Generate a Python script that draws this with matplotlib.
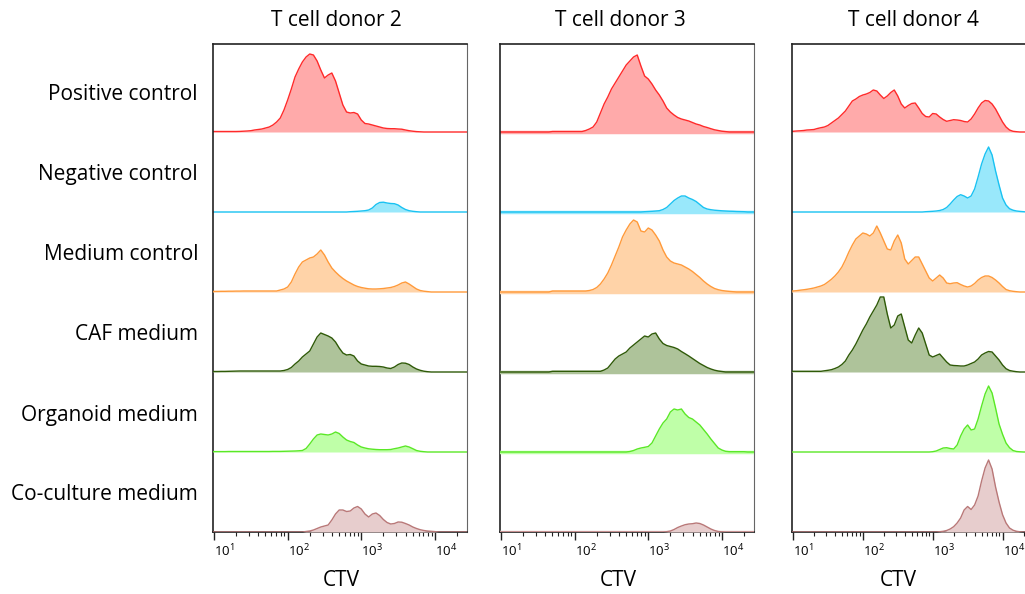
import numpy as np
import matplotlib
matplotlib.use("Agg")
import matplotlib.pyplot as plt
from matplotlib.ticker import LogLocator, NullFormatter, LogFormatterSciNotation

plt.rcParams['font.family'] = ['Open Sans', 'DejaVu Sans']

# ---------------- data ----------------
BIN_STEP = 0.05
LOG_BINS = np.round(np.arange(0.95, 4.4501, BIN_STEP), 2)   # log10(CTV) bin centres

donors = ["T cell donor 2", "T cell donor 3", "T cell donor 4"]
conditions = ["Positive control", "Negative control", "Medium control",
              "CAF medium", "Organoid medium", "Co-culture medium"]

# event counts (80 = one row height); each entry: (log10 CTV of first bin, counts)
d2_positive = (1.00, [0.5, 0.5, 0.5, 0.5, 0.5, 0.5, 0.5, 0.6, 0.8, 1, 1.3,
                      2, 2.5, 3, 4, 5, 7, 10, 14, 22, 32, 43, 55, 63, 70, 75, 78, 77, 71, 62,
                      54, 57, 59, 51, 39, 27, 20, 19, 19.5, 18, 12, 8.5, 8, 7, 6, 5, 4, 3.5,
                      3.3, 3.3, 3, 2.8, 2, 1.3, 0.8, 0.4, 0.2])
d2_negative = (2.85, [0.3, 0.5, 0.7, 1, 1.3, 2, 4, 7.5, 9.5, 9.8, 9, 8.5, 8.3, 7, 4.5,
                      2.5, 1.3, 0.7, 0.3])
d2_medium = (1.00, [0.6, 0.6, 0.7, 0.7, 0.8, 0.8, 0.9, 0.9, 1, 1, 1, 1, 1, 1, 1, 1, 1, 1,
                    2, 3, 5, 10, 18, 25, 30, 32, 34, 35, 38, 42, 37, 30, 24, 20, 16.5, 13.5,
                    11, 9, 7, 5.5, 4.5, 3.8, 3.2, 3, 3, 3.2, 3.5, 4, 4.5, 5.5, 7, 9, 10, 8,
                    5.5, 3, 1.5, 0.8, 0.4])
d2_caf = (1.00, [0.5, 0.5, 0.6, 0.6, 0.7, 0.8, 0.9, 1, 1, 1, 1, 1, 1, 1, 1, 1, 1, 1, 1, 1.5,
                 2.5, 4.5, 8, 11, 15, 18, 21, 28, 35, 39, 37.5, 36, 34, 30, 24, 19, 17,
                 17.5, 16, 11, 8, 7, 6, 5.7, 5.7, 5.5, 5, 4, 3.5, 5, 7.5, 9, 8.8, 7.5, 5,
                 3, 1.7, 0.8, 0.3])
d2_organoid = (1.00, [0.4, 0.4, 0.4, 0.4, 0.5, 0.5, 0.5, 0.5, 0.5, 0.5, 0.5, 0.5, 0.5, 0.5,
                      0.5, 0.5, 0.6, 0.6, 0.6, 0.7, 0.8, 0.9, 1, 1.2, 1.5, 3.5, 8, 13, 17,
                      18, 17.5, 17, 18, 20, 18.5, 15, 12, 10.5, 9.5, 7, 5, 4, 3.2, 2.8, 2.5,
                      2.3, 2.3, 2.3, 2.5, 3.3, 4, 5, 6, 5, 3.3, 1.5, 0.7, 0.3])
d2_coculture = (2.25, [0.5, 1, 2, 3.5, 5, 6, 7, 12, 18, 22, 22, 20.5, 21, 24, 25.5, 23, 18,
                       15, 18, 19, 16.5, 12.5, 9.5, 8, 8.5, 10, 9.8, 8.5, 7, 5, 3.5, 2.3,
                       1.5, 1, 0.7, 0.4])

d3_positive = (1.70, [0.5, 0.5, 0.5, 0.5, 0.5, 0.5, 0.5, 0.5, 0.5, 1.5, 3, 5, 10, 19, 28, 35,
                      43, 49, 55, 61, 67, 71, 75, 77, 66, 56, 53, 48, 42, 37, 31, 24, 20, 17,
                      14.5, 13, 12, 11, 9.5, 8, 7, 5.5, 4.5, 3.3, 2.2, 1.5, 0.8, 0.4])
d3_negative = (2.95, [0.3, 0.5, 0.7, 1, 1.3, 2.5, 4.5, 8, 11.5, 14, 16, 16, 14, 12.5, 10.5,
                      7.5, 4.5, 3, 2.3, 1.8, 1.5, 1.2, 1, 0.8, 0.7, 0.5, 0.4, 0.3])
d3_medium = (1.70, [1, 1, 1, 1, 1, 1, 1, 1, 1, 1, 1.5, 2.5, 4.5, 8, 13, 19, 27, 36, 45, 55, 62,
                    68, 72, 70, 61, 60, 64, 62, 57, 51, 42, 35, 31, 29, 28, 27, 25, 23, 20.5,
                    17.5, 14.5, 11, 8, 5.5, 3.5, 2.3, 1.5, 1, 0.6, 0.3])
d3_caf = (1.70, [0.7, 0.7, 0.7, 0.7, 0.7, 0.7, 0.7, 0.7, 0.7, 0.7, 0.7, 0.7, 0.7, 0.7, 2, 4,
                 8.5, 13, 16, 18, 20, 24, 27, 30, 33, 36, 35, 38, 39, 33, 28.5, 26.5, 25.5,
                 24.5, 23, 20.5, 18.3, 16, 13.5, 11, 8.5, 6.5, 4.5, 3, 1.8, 1, 0.5])
d3_organoid = (2.75, [0.5, 1.5, 3, 4, 4.7, 5.5, 9, 16, 23, 29, 33, 40, 43, 42, 43, 38, 34.5,
                      33, 30, 27, 22.5, 18, 13, 8.5, 4, 2, 0.7, 0.3, 0.3, 0.3, 0.3, 0.3])
d3_coculture = (3.25, [0.3, 1, 2.5, 4.5, 6, 7.3, 8, 8.3, 9, 8.5, 7, 5, 3, 1.5, 0.5, 0.2])

d4_positive = (0.95, [0.6, 0.7, 1, 1.2, 1.5, 2, 2.2, 2.5, 3.5, 4.3, 5, 6.5, 9, 11.5, 14, 17.5,
                      21, 26, 31, 33, 35.5, 37, 38, 39.5, 42, 41, 37, 33.5, 36, 39.5, 42, 36,
                      28, 24, 26.5, 28.5, 29, 24, 18.5, 15.5, 15, 18.5, 18, 15, 12.5, 10.7,
                      11.5, 12.3, 12, 11.5, 10.5, 10, 13, 18, 24, 29, 31.5, 31, 28, 23, 16.5,
                      10, 5, 2, 0.7, 0.3])
d4_negative = (2.90, [0.3, 0.5, 0.7, 1, 1.5, 2.5, 4.5, 8, 12, 15.5, 17.3, 16, 14, 16, 23, 35,
                      48, 58, 65, 57, 41, 27, 14, 7, 3.3, 1.8, 1, 0.6, 0.3])
d4_medium = (0.95, [1, 1, 1.3, 1.8, 2.2, 2.7, 3.3, 4, 5, 6, 7.5, 10, 12.7, 16, 20, 25, 32, 40,
                    47, 53, 56, 59, 58, 56, 59, 66, 59, 51, 43, 42, 51, 57, 49, 33, 28, 31.5,
                    35, 35, 28, 21, 14, 11, 14, 17, 14, 9, 8.3, 9, 9.3, 7.5, 6, 5, 6, 8.5, 12,
                    14.5, 16, 16, 14.5, 12, 9, 5.5, 2.5, 1.3, 0.7, 0.3])
d4_caf = (0.95, [0.7, 0.7, 0.7, 0.7, 0.7, 0.7, 0.7, 0.7, 0.7, 0.7, 1.2, 1.7, 2.3, 3.5, 5, 7.5,
                 11, 17, 22, 28, 35, 42, 48, 55, 61, 67, 75, 75, 58, 44, 47, 56, 58, 45, 32,
                 29, 37, 44, 39, 28, 17, 15, 16.5, 18, 14, 10, 7, 6.5, 6.3, 6, 6, 7, 8.5, 10,
                 13, 17, 19, 20.5, 20, 16, 12, 7, 3.3, 1.5, 0.8, 0.3])
d4_organoid = (3.00, [0.3, 1, 2.5, 4, 4.3, 3.5, 3, 7, 16, 23, 27, 22, 23, 33, 46, 58, 66, 59,
                      44, 28, 17.7, 9, 4.3, 1.5, 0.5, 0.2])
d4_coculture = (3.10, [0.3, 0.7, 1.5, 3, 5.3, 9, 14, 22, 25.5, 22.5, 27, 36, 51, 64, 72, 63, 45,
                       30, 17.3, 9, 4, 1.8, 0.7, 0.2])

panel_data = [
    [d2_positive, d2_negative, d2_medium, d2_caf, d2_organoid, d2_coculture],
    [d3_positive, d3_negative, d3_medium, d3_caf, d3_organoid, d3_coculture],
    [d4_positive, d4_negative, d4_medium, d4_caf, d4_organoid, d4_coculture],
]

ROW_COUNTS = 80.0

# ---------------- style ----------------
line_colors = ["#ff2a2a", "#19c2f2", "#ff9a3a", "#2f5a08", "#5ae826", "#b97878"]
fill_colors = ["#ffaaaa", "#99e8fb", "#ffd3a8", "#aec39a", "#bfffa8", "#e7cdcd"]
baseline_band = [False, True, False]

W, H = 1025, 594
fig = plt.figure(figsize=(W / 100, H / 100), dpi=100)

# axes boxes in pixels (left, right) ; top 44, bottom 532
panel_px = [(213, 467), (500, 754), (792, 1033)]
top_px, bot_px = 44, 532
XMIN, XMAX = 10 ** 0.986, 10 ** 4.436
n_rows = len(conditions)
YTOP = (bot_px - top_px) / ROW_COUNTS   # 6.1 rows


def to_grid(entry):
    start, vals = entry
    out = np.zeros(len(LOG_BINS))
    i0 = int(round((start - LOG_BINS[0]) / BIN_STEP))
    out[i0:i0 + len(vals)] = vals
    return out


x = 10 ** LOG_BINS
for j, (l, r) in enumerate(panel_px):
    ax = fig.add_axes([l / W, (H - bot_px) / H, (r - l) / W, (bot_px - top_px) / H])
    for i in range(n_rows):
        base = n_rows - 1 - i
        y = base + to_grid(panel_data[j][i]) / ROW_COUNTS
        if baseline_band[j]:
            ax.axhline(base, color=fill_colors[i], lw=2.5, zorder=1 + i)
        ax.fill_between(x, base, y, color=fill_colors[i], lw=0, zorder=1 + i)
        ax.plot(x, y, color=line_colors[i], lw=1.0, zorder=1.5 + i)
    ax.set_xscale('log')
    ax.set_xlim(XMIN, XMAX)
    ax.set_ylim(0, YTOP)
    ax.set_yticks([])
    ax.set_xticks([1e1, 1e2, 1e3, 1e4])
    ax.xaxis.set_major_formatter(LogFormatterSciNotation())
    ax.xaxis.set_minor_locator(LogLocator(base=10, subs=np.arange(2, 10)))
    ax.xaxis.set_minor_formatter(NullFormatter())
    ax.tick_params(axis='x', which='major', direction='out', length=6, width=1.0,
                   labelsize=9.5, pad=2, color='#222222')
    ax.tick_params(axis='x', which='minor', direction='out', length=3, width=0.8,
                   color='#222222')
    for lab in ax.get_xticklabels():
        lab.set_horizontalalignment('left')
    for s in ['left', 'top', 'bottom']:
        ax.spines[s].set_color('#222222')
        ax.spines[s].set_linewidth(1.2)
    ax.spines['right'].set_color('#666666')
    ax.spines['right'].set_linewidth(0.8)
    ax.set_facecolor('white')

# titles and axis labels
title_x = [336, 620, 913]
ctv_x = [341, 618, 898]
for j in range(3):
    fig.text(title_x[j] / W, 1 - 21 / H, donors[j], ha='center', va='center', fontsize=15)
    fig.text(ctv_x[j] / W, 1 - 581 / H, "CTV", ha='center', va='center', fontsize=15)

for i, c in enumerate(conditions):
    fig.text(198 / W, 1 - (95 + 80 * i) / H, c, ha='right', va='center', fontsize=15)

fig.savefig("out.png", dpi=100, facecolor='white')
